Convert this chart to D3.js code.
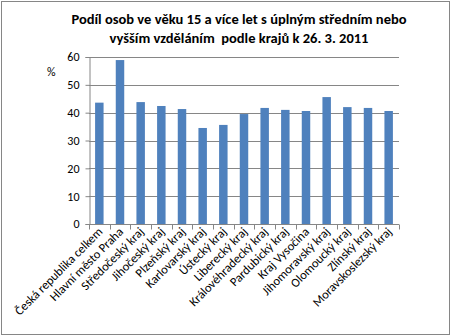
<!DOCTYPE html>
<html>
<head>
<meta charset="utf-8">
<script src="https://cdn.jsdelivr.net/npm/d3@7"></script>
<style>
  html, body { margin: 0; padding: 0; background: #fff; }
  svg { display: block; font-family: Carlito, "Open Sans", "Liberation Sans", sans-serif; }
  .title { white-space: pre; }
</style>
</head>
<body>
<svg id="chart" width="451" height="336"></svg>
<script>
// Regions (kraje) and share of persons 15+ with complete secondary or higher education, %
const categories = [
  "Česká republika celkem", "Hlavní město Praha", "Středočeský kraj", "Jihočeský kraj",
  "Plzeňský kraj", "Karlovarský kraj", "Ústecký kraj", "Liberecký kraj",
  "Královéhradecký kraj", "Pardubický kraj", "Kraj Vysočina", "Jihomoravský kraj",
  "Olomoucký kraj", "Zlínský kraj", "Moravskoslezský kraj"
];
const values = [43.6, 58.9, 43.8, 42.4, 41.3, 34.5, 35.6, 39.5, 41.7, 41.0, 40.6, 45.6, 42.0, 41.7, 40.6];
const yTicks = [0, 10, 20, 30, 40, 50, 60];
const titleLines = [
  "Podíl osob ve věku 15 a více let s úplným středním nebo",
  "vyšším vzděláním  podle krajů k 26. 3. 2011"
];
const unitLabel = "%";

const svg = d3.select("#chart");
const W = 451, H = 336;
const plot = { left: 89, right: 399, top: 57, bottom: 224 };

// chart frame
svg.append("rect")
  .attr("x", 1.5).attr("y", 1.5).attr("width", W - 3).attr("height", H - 3)
  .attr("fill", "#fff").attr("stroke", "#868686").attr("stroke-width", 1);

// title
svg.append("g").selectAll("text").data(titleLines).join("text")
  .attr("class", "title")
  .attr("x", 239).attr("y", (d, i) => 24 + i * 19)
  .attr("text-anchor", "middle")
  .attr("font-weight", "bold").attr("font-size", 14.5).attr("fill", "#000")
  .text(d => d);

const x = d3.scaleBand().domain(categories).range([plot.left, plot.right]).paddingInner(0.59).paddingOuter(0.295);
const y = d3.scaleLinear().domain([0, 60]).range([plot.bottom, plot.top]);

// horizontal gridlines
svg.append("g").selectAll("line").data(yTicks.filter(t => t > 0)).join("line")
  .attr("x1", plot.left).attr("x2", plot.right)
  .attr("y1", d => Math.round(y(d)) + 0.5).attr("y2", d => Math.round(y(d)) + 0.5)
  .attr("stroke", "#868686").attr("stroke-width", 1);

// y axis
const yAxis = svg.append("g").attr("transform", `translate(${plot.left + 0.5},0)`)
  .call(d3.axisLeft(y).tickValues(yTicks).tickSize(4).tickPadding(6));
yAxis.select(".domain").attr("stroke", "#868686");
yAxis.selectAll(".tick line").attr("stroke", "#868686");
yAxis.selectAll(".tick text").attr("font-size", 12).attr("fill", "#000")
  .attr("font-family", "Carlito, 'Open Sans', sans-serif");

// bars
svg.append("g").selectAll("rect").data(values).join("rect")
  .attr("x", (d, i) => x(categories[i]))
  .attr("width", x.bandwidth())
  .attr("y", d => y(d))
  .attr("height", d => y(0) - y(d))
  .attr("fill", "#4f81bd");

// x axis with boundary ticks
const xg = svg.append("g").attr("transform", `translate(0,${Math.round(plot.bottom) + 0.5})`);
xg.append("line").attr("x1", plot.left).attr("x2", plot.right).attr("stroke", "#868686");
const step = (plot.right - plot.left) / categories.length;
xg.selectAll("line.tk").data(d3.range(categories.length + 1)).join("line")
  .attr("class", "tk")
  .attr("x1", i => Math.round(plot.left + i * step) + 0.5)
  .attr("x2", i => Math.round(plot.left + i * step) + 0.5)
  .attr("y1", 0).attr("y2", 5).attr("stroke", "#868686");

// rotated category labels
xg.selectAll("text").data(categories).join("text")
  .attr("transform", d => `translate(${x(d) + x.bandwidth() / 2 + 4},8) rotate(-45)`)
  .attr("text-anchor", "end")
  .attr("font-size", 12.5).attr("fill", "#000")
  .text(d => d);

// unit label
svg.append("text").attr("x", 47).attr("y", 76).attr("font-size", 12).attr("fill", "#000")
  .text(unitLabel);
</script>
</body>
</html>
